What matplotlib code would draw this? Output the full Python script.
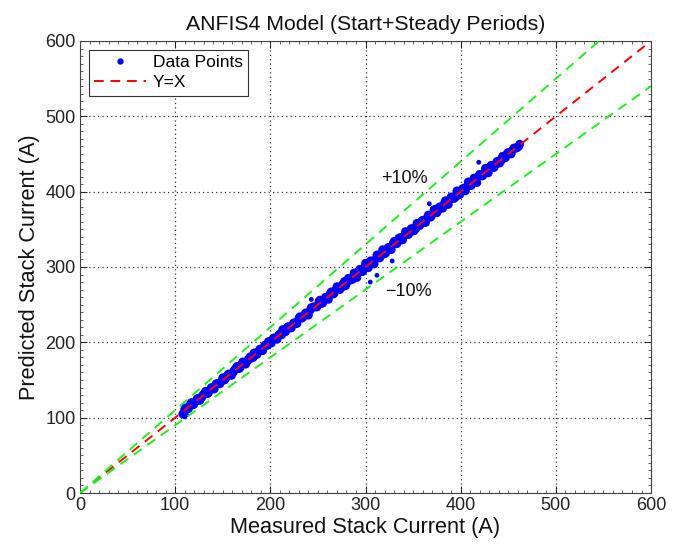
import matplotlib
matplotlib.use("Agg")
import matplotlib.pyplot as plt
from matplotlib.ticker import MultipleLocator
from matplotlib.lines import Line2D

plt.rcParams['font.family'] = ['Liberation Sans', 'DejaVu Sans']

# Data (dense band, two interleaved sets)
measured = [108, 111, 114, 117, 120, 123, 126, 129, 132, 135,
            138, 141, 144, 147, 150, 153, 156, 159, 162, 165,
            168, 171, 174, 177, 180, 183, 186, 189, 192, 195,
            198, 201, 204, 207, 210, 213, 216, 219, 222, 225,
            228, 231, 234, 237, 240, 243, 246, 249, 252, 255,
            258, 261, 264, 267, 270, 273, 276, 279, 282, 285,
            288, 291, 294, 297, 300, 303, 306, 309, 312, 315,
            318, 321, 324, 327, 330, 333, 336, 339, 342, 345,
            348, 351, 354, 357, 360, 363, 366, 369, 372, 375,
            378, 381, 384, 387, 390, 393, 396, 399, 402, 405,
            408, 411, 414, 417, 420, 423, 426, 429, 432, 435,
            438, 441, 444, 447, 450, 453, 456, 459, 462]
residual = [-3, 2, -2, 3, -1, 2, -3, 1, 3, -2,
            2, -3, 1, -2, 3, -1, 2, -3, 1, 3,
            -2, 3, -3, 1, -1, 3, -2, 2, -3, 1,
            3, -2, 2, -3, 1, 4, -2, 2, -3, 1,
            -3, 3, -1, 2, -4, 3, 1, -2, 4, -3,
            2, -4, 3, -2, 4, -3, 1, -4, 3, -2,
            4, -5, 3, -3, 5, -4, 2, -5, 4, -3,
            5, -3, 2, -4, 4, -2, 3, -3, 5, -2,
            3, -3, 4, -2, 2, -4, 3, -2, 4, -3,
            2, -3, 4, -4, 3, -2, 5, -3, 2, -4,
            5, -3, 4, -5, 3, -2, 5, -4, 3, -3,
            2, -3, 3, -2, 2, -3, 2, -1, 1]
predicted = [m + r for m, r in zip(measured, residual)]

measured_b = [110, 113, 116, 119, 122, 125, 128, 131, 134, 137,
              140, 143, 146, 149, 152, 155, 158, 161, 164, 167,
              170, 173, 176, 179, 182, 185, 188, 191, 194, 197,
              200, 203, 206, 209, 212, 215, 218, 221, 224, 227,
              230, 233, 236, 239, 242, 245, 248, 251, 254, 257,
              260, 263, 266, 269, 272, 275, 278, 281, 284, 287,
              290, 293, 296, 299, 302, 305, 308, 311, 314, 317,
              320, 323, 326, 329, 332, 335, 338, 341, 344, 347,
              350, 353, 356, 359, 362, 365, 368, 371, 374, 377,
              380, 383, 386, 389, 392, 395, 398, 401, 404, 407,
              410, 413, 416, 419, 422, 425, 428, 431, 434, 437,
              440, 443, 446, 449, 452, 455, 458, 461]
residual_b = [1, -1, 2, -2, 0, 1, -1, 2, -2, 0,
              -1, 2, -1, 0, -2, 1, 0, -1, 2, -2,
              1, 0, -1, 2, -2, 1, 0, -2, 2, -1,
              0, 2, -1, 1, -2, 0, 2, -1, 1, -2,
              2, -1, 0, -2, 1, 2, -1, 3, -2, 0,
              -1, 2, -2, 1, 0, -2, 3, -1, 1, -3,
              0, 2, -2, 1, -1, 3, -2, 0, 2, -1,
              -2, 1, 0, 2, -1, 3, -2, 1, 0, -1,
              1, -2, 0, 2, -1, 1, -2, 0, 3, -1,
              -1, 2, -2, 1, 0, -2, 2, -1, 1, 0,
              -2, 1, 0, 2, -1, 1, -3, 2, 0, -1,
              1, -1, 0, 2, -1, 1, 0, -1]
predicted_b = [m + r for m, r in zip(measured_b, residual_b)]

outlier_measured = [243, 305, 312, 328, 367, 419, 110, 112]
outlier_predicted = [257, 280, 289, 308, 384, 439, 101, 104]

ref_line = [0, 600]
band_pct = 10

fig = plt.figure(figsize=(6.81, 5.45), dpi=100)
ax = fig.add_axes([0.1175, 0.0954, 0.8385, 0.8294])

ax.scatter(measured, predicted, s=40, color='#0000ff', edgecolors='none', zorder=2)
ax.scatter(measured_b, predicted_b, s=40, color='#0000ff', edgecolors='none', zorder=2)
ax.scatter(outlier_measured, outlier_predicted, s=12, color='#0000ff', edgecolors='none', zorder=2)

dash = (0, (5, 3.5))
ax.plot(ref_line, ref_line, color='#ff0000', lw=1.4, linestyle=dash, zorder=3)
ax.plot(ref_line, [v * (1 + band_pct / 100) for v in ref_line], color='#22ee22', lw=1.4, linestyle=dash, zorder=3)
ax.plot(ref_line, [v * (1 - band_pct / 100) for v in ref_line], color='#22ee22', lw=1.4, linestyle=dash, zorder=3)

ax.text(341, 418, '+10%', fontsize=13, ha='center', va='center', color='#111111')
ax.text(345, 268, '\u221210%', fontsize=13, ha='center', va='center', color='#111111')

ax.set_xlim(0, 600)
ax.set_ylim(0, 600)
ax.xaxis.set_major_locator(MultipleLocator(100))
ax.yaxis.set_major_locator(MultipleLocator(100))
ax.xaxis.set_minor_locator(MultipleLocator(10))
ax.yaxis.set_minor_locator(MultipleLocator(10))
ax.tick_params(which='both', direction='in', top=True, right=True, labelsize=13, colors='#222222')
ax.tick_params(which='major', length=5, width=0.7, pad=3)
ax.tick_params(which='minor', length=2.5, width=0.5)
for sp in ax.spines.values():
    sp.set_linewidth(0.8)
    sp.set_color('#444444')
ax.grid(True, which='major', color='#333333', linestyle=(0, (1, 2.5)), lw=0.9)
ax.set_axisbelow(True)

ax.set_xlabel('Measured Stack Current (A)', fontsize=15.7, labelpad=2, color='#111111')
ax.set_ylabel('Predicted Stack Current (A)', fontsize=15.7, labelpad=4, color='#111111')
ax.set_title('ANFIS4 Model (Start+Steady Periods)', fontsize=15.3, pad=8, color='#111111')

handles = [Line2D([], [], color='#0000ff', marker='.', linestyle='none', markersize=7),
           Line2D([], [], color='#ff0000', lw=1.4, linestyle=dash)]
leg = ax.legend(handles, ['Data Points', 'Y=X'], loc='upper left', fontsize=12.5,
                fancybox=False, framealpha=1, edgecolor='#333333', handlelength=3.0,
                handletextpad=0.4, borderaxespad=0.5, borderpad=0.3, labelspacing=0.3)
leg.get_frame().set_linewidth(0.8)

fig.savefig('out.png', dpi=100)
